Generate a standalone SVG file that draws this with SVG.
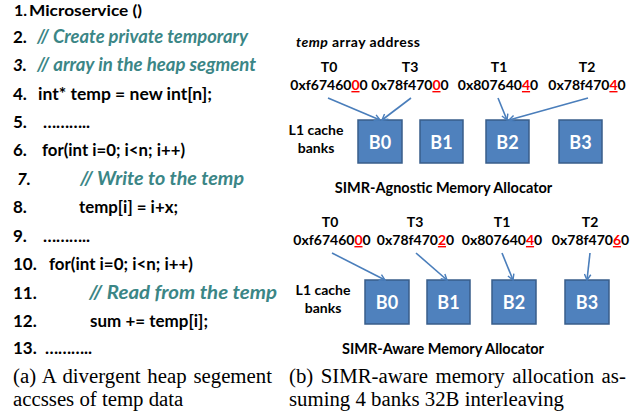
<svg xmlns="http://www.w3.org/2000/svg" width="641" height="416" viewBox="0 0 641 416">
  <style>
    .code { font-family: Lato, "Open Sans", sans-serif; font-weight: bold; font-size: 17px; fill: #000; }
    .cmt { fill: #3B8686; font-style: italic; font-size: 18px; }
    .it { font-style: italic; }
    .lbl { font-family: Lato, "Open Sans", sans-serif; font-weight: bold; font-size: 14px; fill: #000; }
    .mid { text-anchor: middle; }
    .hl { fill: #FF0000; text-decoration: underline; }
    .title { font-family: Lato, "Open Sans", sans-serif; font-weight: bold; font-size: 14.5px; fill: #000; text-anchor: middle; }
    .bank rect { fill: #4F81BD; stroke: #385D8A; stroke-width: 1.5; }
    .bank text { font-family: Lato, "Open Sans", sans-serif; font-weight: bold; font-size: 18px; fill: #FFFFFF; text-anchor: middle; }
    .cap { font-family: "Liberation Serif", "Times New Roman", serif; font-size: 20.8px; fill: #000; }
    .conn line { stroke: #4A7EBB; stroke-width: 1.6; fill: none; marker-end: url(#head); }
  </style>
  <defs>
    <marker id="head" viewBox="0 0 10 10" refX="8.5" refY="5" markerWidth="8" markerHeight="8" markerUnits="userSpaceOnUse" orient="auto">
      <path d="M1.5,1 L8.5,5 L1.5,9" fill="none" stroke="#4A7EBB" stroke-width="1.8"/>
    </marker>
  </defs>
  <rect width="641" height="416" fill="#FFFFFF"/>

  <!-- (a) source listing -->
  <g id="code">
    <text class="code" x="14" y="16" style="font-size:16px">1.</text>
    <text class="code" x="29" y="16" style="font-size:16px" textLength="113" lengthAdjust="spacingAndGlyphs">Microservice ()</text>
    <text class="code" x="13" y="43">2.</text>
    <text class="code cmt" x="37" y="43" textLength="211" lengthAdjust="spacingAndGlyphs">// Create private temporary</text>
    <text class="code it" x="13" y="71">3.</text>
    <text class="code cmt" x="37" y="71" textLength="219" lengthAdjust="spacingAndGlyphs">// array in the heap segment</text>
    <text class="code" x="13" y="100">4.</text>
    <text class="code" x="38" y="100" textLength="174" lengthAdjust="spacingAndGlyphs">int* temp = new int[n];</text>
    <text class="code" x="13" y="128">5.</text>
    <text class="code" x="43" y="128" textLength="47">………..</text>
    <text class="code" x="13" y="156">6.</text>
    <text class="code" x="42" y="156" textLength="143" lengthAdjust="spacingAndGlyphs">for(int i=0; i&lt;n; i++)</text>
    <text class="code it" x="17" y="185">7.</text>
    <text class="code cmt" x="80" y="185" textLength="164" lengthAdjust="spacingAndGlyphs">// Write to the temp</text>
    <text class="code" x="13" y="213">8.</text>
    <text class="code" x="79" y="213" textLength="99" lengthAdjust="spacingAndGlyphs">temp[i] = i+x;</text>
    <text class="code" x="13" y="242">9.</text>
    <text class="code" x="43" y="242" textLength="47">………..</text>
    <text class="code" x="13" y="270">10.</text>
    <text class="code" x="49" y="270" textLength="144" lengthAdjust="spacingAndGlyphs">for(int i=0; i&lt;n; i++)</text>
    <text class="code" x="13" y="299">11.</text>
    <text class="code cmt" x="89" y="299" textLength="188" lengthAdjust="spacingAndGlyphs">// Read from the temp</text>
    <text class="code" x="13" y="327">12.</text>
    <text class="code" x="90" y="327" textLength="118" lengthAdjust="spacingAndGlyphs">sum += temp[i];</text>
    <text class="code" x="13" y="354">13.</text>
    <text class="code" x="45" y="354" textLength="47">………..</text>
  </g>

  <!-- SIMR-agnostic allocation -->
  <g id="agnostic-labels">
    <text class="lbl" x="296" y="47" textLength="124"><tspan class="it">temp</tspan> array address</text>
    <text class="lbl mid" x="329" y="72">T0</text>
    <text class="lbl mid" x="329" y="90">0xf67460<tspan class="hl">0</tspan>0</text>
    <text class="lbl mid" x="410" y="72">T3</text>
    <text class="lbl mid" x="410" y="90">0x78f470<tspan class="hl">0</tspan>0</text>
    <text class="lbl mid" x="499" y="72">T1</text>
    <text class="lbl mid" x="498" y="90">0x807640<tspan class="hl">4</tspan>0</text>
    <text class="lbl mid" x="587" y="72">T2</text>
    <text class="lbl mid" x="587" y="90">0x78f470<tspan class="hl">4</tspan>0</text>
    <text class="lbl mid" x="316" y="135">L1 cache</text>
    <text class="lbl mid" x="316" y="153">banks</text>
    <text class="title" x="443.5" y="193">SIMR-Agnostic Memory Allocator</text>
  </g>
  <g id="agn-B0" class="bank"><rect x="358" y="120" width="44" height="43"/><text x="380" y="149">B0</text></g>
  <g id="agn-B1" class="bank"><rect x="420" y="120" width="43" height="43"/><text x="441.5" y="149">B1</text></g>
  <g id="agn-B2" class="bank"><rect x="486" y="120" width="43" height="43"/><text x="507.5" y="149">B2</text></g>
  <g id="agn-B3" class="bank"><rect x="559" y="120" width="43" height="43"/><text x="580.5" y="149">B3</text></g>

  <!-- SIMR-aware allocation -->
  <g id="aware-labels">
    <text class="lbl mid" x="330" y="227">T0</text>
    <text class="lbl mid" x="332" y="245">0xf67460<tspan class="hl">0</tspan>0</text>
    <text class="lbl mid" x="415" y="227">T3</text>
    <text class="lbl mid" x="415.5" y="245">0x78f470<tspan class="hl">2</tspan>0</text>
    <text class="lbl mid" x="502" y="227">T1</text>
    <text class="lbl mid" x="502" y="245">0x807640<tspan class="hl">4</tspan>0</text>
    <text class="lbl mid" x="590" y="227">T2</text>
    <text class="lbl mid" x="590.5" y="245">0x78f470<tspan class="hl">6</tspan>0</text>
    <text class="lbl mid" x="323" y="295">L1 cache</text>
    <text class="lbl mid" x="323" y="313">banks</text>
    <text class="title" x="443" y="354">SIMR-Aware Memory Allocator</text>
  </g>
  <g id="awr-B0" class="bank"><rect x="365" y="280" width="44" height="44"/><text x="387" y="309">B0</text></g>
  <g id="awr-B1" class="bank"><rect x="427" y="280" width="43" height="44"/><text x="448.5" y="309">B1</text></g>
  <g id="awr-B2" class="bank"><rect x="492" y="280" width="44" height="44"/><text x="514" y="309">B2</text></g>
  <g id="awr-B3" class="bank"><rect x="565" y="280" width="44" height="44"/><text x="587" y="309">B3</text></g>

  <!-- thread-to-bank connectors -->
  <g id="connectors" class="conn">
    <line x1="328" y1="98" x2="380" y2="120"/>
    <line x1="411" y1="98" x2="382" y2="120"/>
    <line x1="498" y1="98" x2="507" y2="120"/>
    <line x1="588" y1="98" x2="509" y2="120"/>
    <line x1="332" y1="253" x2="385" y2="280"/>
    <line x1="416" y1="253" x2="447" y2="280"/>
    <line x1="502" y1="253" x2="513" y2="280"/>
    <line x1="590" y1="253" x2="587" y2="280"/>
  </g>

  <!-- captions -->
  <g id="captions">
    <text class="cap" x="13" y="383" word-spacing="1.6">(a) A divergent heap segement</text>
    <text class="cap" x="13" y="406">accsses of temp data</text>
    <text class="cap" x="289" y="383" word-spacing="2.2">(b) SIMR-aware memory allocation as-</text>
    <text class="cap" x="289" y="406">suming 4 banks 32B interleaving</text>
  </g>
</svg>
